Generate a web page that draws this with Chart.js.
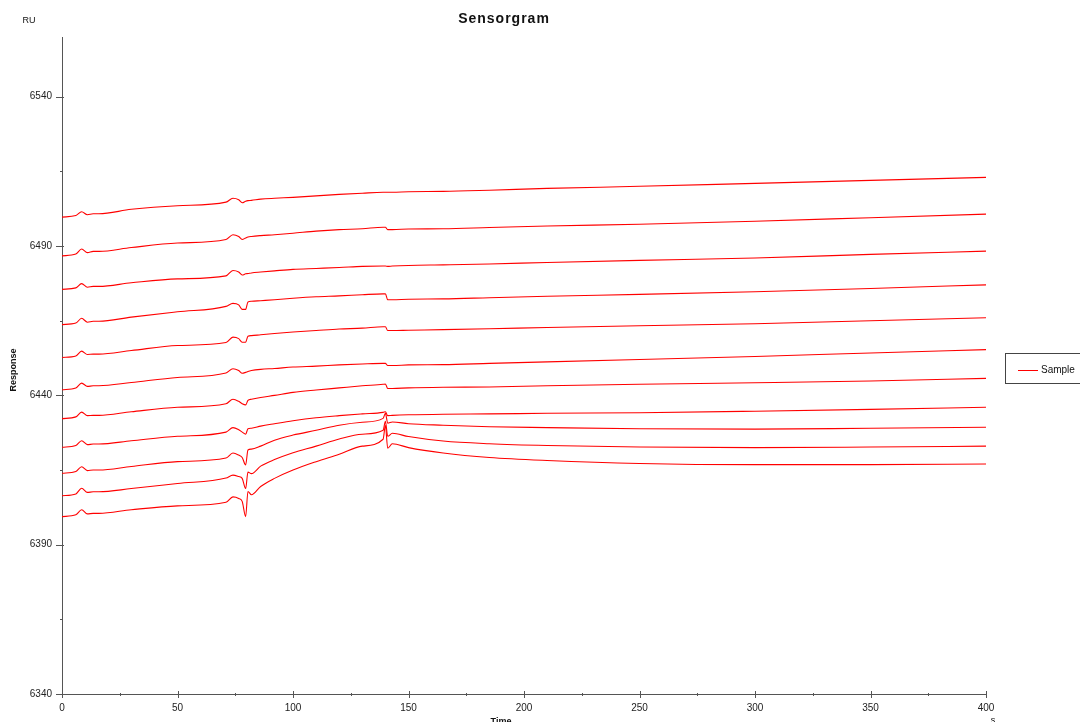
<!DOCTYPE html>
<html>
<head>
<meta charset="utf-8">
<script src="https://cdn.jsdelivr.net/npm/chart.js@4.4.1/dist/chart.umd.min.js"></script>
<style>
  html, body { margin: 0; padding: 0; background: #ffffff; }
  #wrap { width: 1080px; height: 722px; position: relative; overflow: hidden; }
</style>
</head>
<body>
<div id="wrap"><canvas id="c" width="1080" height="722"></canvas></div>
<script>
// ---- data (time in s, response in RU) ----
const times = [0, 6, 8.5, 11, 13.5, 16, 30, 50, 71, 74, 76.5, 78, 79.5, 80.5, 82, 86, 92, 100, 110, 120, 130, 139, 140, 141, 143, 150, 165, 185, 210, 250, 300, 350, 400];

const curve1  = [6499.7, 6500.2, 6501.5, 6500.5, 6500.8, 6500.8, 6502.3, 6503.5, 6504.7, 6506.0, 6505.5, 6504.5, 6505.0, 6505.2, 6505.3, 6505.7, 6506.0, 6506.3, 6506.8, 6507.3, 6507.7, 6508.0, 6508.0, 6508.0, 6508.0, 6508.2, 6508.3, 6508.7, 6509.3, 6510.0, 6511.0, 6512.0, 6513.0];
const curve2  = [6486.7, 6487.3, 6489.0, 6487.8, 6488.2, 6488.2, 6489.5, 6491.0, 6492.2, 6493.8, 6493.2, 6492.2, 6492.7, 6493.0, 6493.2, 6493.5, 6493.8, 6494.3, 6495.0, 6495.5, 6495.8, 6496.3, 6496.3, 6495.5, 6495.5, 6495.7, 6495.8, 6496.2, 6496.7, 6497.3, 6498.3, 6499.5, 6500.7];
const curve3  = [6475.5, 6476.0, 6477.4, 6476.2, 6476.5, 6476.5, 6477.7, 6479.0, 6480.0, 6481.8, 6481.3, 6480.3, 6480.7, 6480.8, 6481.0, 6481.3, 6481.7, 6482.2, 6482.5, 6482.8, 6483.2, 6483.3, 6483.3, 6483.2, 6483.3, 6483.5, 6483.7, 6484.0, 6484.5, 6485.2, 6486.0, 6487.2, 6488.3];
const curve4  = [6463.7, 6464.2, 6465.8, 6464.5, 6464.8, 6464.8, 6466.2, 6468.0, 6469.8, 6470.8, 6470.3, 6468.8, 6468.8, 6471.3, 6471.5, 6471.7, 6472.0, 6472.5, 6473.0, 6473.3, 6473.7, 6474.0, 6474.0, 6472.0, 6472.0, 6472.2, 6472.3, 6472.7, 6473.2, 6473.8, 6474.7, 6475.8, 6477.0];
const curve5  = [6452.7, 6453.2, 6454.8, 6453.7, 6453.8, 6453.8, 6455.0, 6456.7, 6457.7, 6459.5, 6459.0, 6457.8, 6457.8, 6459.8, 6460.0, 6460.3, 6460.7, 6461.2, 6461.7, 6462.2, 6462.5, 6463.0, 6463.0, 6461.7, 6461.7, 6461.8, 6462.0, 6462.3, 6462.7, 6463.3, 6464.0, 6465.0, 6466.0];
const curve6  = [6441.9, 6442.5, 6444.1, 6443.0, 6443.2, 6443.2, 6444.3, 6446.0, 6447.5, 6448.9, 6448.3, 6447.4, 6447.7, 6448.0, 6448.3, 6448.7, 6449.0, 6449.5, 6449.8, 6450.2, 6450.5, 6450.7, 6450.7, 6450.0, 6450.0, 6450.2, 6450.3, 6450.7, 6451.2, 6452.0, 6453.0, 6454.2, 6455.3];
const curve7  = [6432.2, 6432.8, 6434.4, 6433.2, 6433.3, 6433.3, 6434.5, 6436.0, 6437.2, 6438.7, 6438.0, 6437.2, 6436.8, 6438.3, 6438.7, 6439.3, 6440.0, 6441.0, 6441.8, 6442.5, 6443.2, 6443.7, 6443.8, 6442.3, 6442.3, 6442.5, 6442.7, 6442.8, 6443.2, 6443.7, 6444.2, 6444.8, 6445.7];
const curve8  = [6422.6, 6423.2, 6424.8, 6423.5, 6423.7, 6423.7, 6424.8, 6426.3, 6427.7, 6429.2, 6428.5, 6427.7, 6427.0, 6428.8, 6429.0, 6429.7, 6430.5, 6431.5, 6432.5, 6433.2, 6433.8, 6434.3, 6434.5, 6433.2, 6433.3, 6433.5, 6433.7, 6433.8, 6434.0, 6434.2, 6434.7, 6435.3, 6436.0];
const curve9  = [6413.9, 6414.5, 6416.1, 6414.8, 6415.0, 6415.0, 6416.2, 6417.8, 6419.0, 6420.7, 6420.0, 6419.2, 6416.7, 6421.7, 6422.0, 6423.0, 6425.0, 6426.7, 6428.3, 6430.0, 6431.0, 6432.3, 6434.0, 6430.7, 6431.1, 6430.5, 6430.0, 6429.5, 6429.2, 6428.8, 6428.7, 6429.0, 6429.3];
const curve10 = [6406.4, 6407.0, 6408.9, 6407.5, 6407.7, 6407.7, 6408.8, 6410.5, 6412.3, 6413.3, 6412.8, 6412.2, 6408.8, 6414.3, 6413.8, 6416.3, 6418.5, 6420.8, 6423.0, 6425.4, 6427.0, 6428.3, 6431.3, 6426.3, 6427.3, 6426.2, 6424.7, 6423.8, 6423.2, 6422.7, 6422.5, 6422.7, 6423.0];
const curve11 = [6399.4, 6400.0, 6401.7, 6400.3, 6400.5, 6400.5, 6401.7, 6403.0, 6404.2, 6406.0, 6405.5, 6404.5, 6399.4, 6407.8, 6406.7, 6409.5, 6412.2, 6415.0, 6417.8, 6420.3, 6423.0, 6425.3, 6430.0, 6422.3, 6423.8, 6422.5, 6420.7, 6419.2, 6418.2, 6417.2, 6416.8, 6416.8, 6417.0];

const curves = [curve1, curve2, curve3, curve4, curve5, curve6, curve7, curve8, curve9, curve10, curve11];

const xTickValues = [0, 25, 50, 75, 100, 125, 150, 175, 200, 225, 250, 275, 300, 325, 350, 375, 400];
const xTickLabels = ['0', '', '50', '', '100', '', '150', '', '200', '', '250', '', '300', '', '350', '', '400'];
const yTickValues = [6340, 6365, 6390, 6415, 6440, 6465, 6490, 6515, 6540];
const yTickLabels = ['6340', '', '6390', '', '6440', '', '6490', '', '6540'];

const seriesName = 'Sample';
const titleText = 'Sensorgram';
const xTitle = 'Time';
const yTitle = 'Response';
const yUnit = 'RU';
const xUnit = 's';

// ---- styles ----
const FONT = '"Liberation Sans", Arial, sans-serif';
const RED = '#ff0000';
const AXIS = '#555555';

const decor = {
  id: 'decor',
  afterDraw(chart) {
    const ctx = chart.ctx, xs = chart.scales.x, ys = chart.scales.y, a = chart.chartArea;
    ctx.save();
    // tick marks
    ctx.strokeStyle = AXIS; ctx.lineWidth = 1;
    ctx.beginPath();
    xTickValues.forEach((v, i) => {
      const px = Math.round(xs.getPixelForValue(v)) + 0.5;
      const major = xTickLabels[i] !== '';
      ctx.moveTo(px, a.bottom - (major ? 3 : 1));
      ctx.lineTo(px, a.bottom + (major ? 4 : 2));
    });
    yTickValues.forEach((v, i) => {
      const py = Math.round(ys.getPixelForValue(v)) + 0.5;
      const major = yTickLabels[i] !== '';
      ctx.moveTo(a.left - (major ? 6 : 2), py);
      ctx.lineTo(a.left + (major ? 2 : 0), py);
    });
    ctx.stroke();

    ctx.fillStyle = '#111';
    // title
    ctx.font = 'bold 14px ' + FONT;
    ctx.textAlign = 'center'; ctx.textBaseline = 'alphabetic';
    try { ctx.letterSpacing = '1px'; } catch (e) {}
    ctx.fillText(titleText, 504, 23);
    try { ctx.letterSpacing = '0px'; } catch (e) {}
    // RU unit
    ctx.font = '9px ' + FONT;
    ctx.textAlign = 'center'; ctx.textBaseline = 'middle';
    ctx.fillText(yUnit, 29, 21);
    // y title
    ctx.save();
    ctx.translate(14, 370);
    ctx.rotate(-Math.PI / 2);
    ctx.font = 'bold 9px ' + FONT;
    ctx.textAlign = 'center'; ctx.textBaseline = 'middle';
    ctx.fillText(yTitle, 0, 0);
    ctx.restore();
    // x title (partly off canvas as in the reference)
    ctx.font = 'bold 9px ' + FONT;
    ctx.textAlign = 'center'; ctx.textBaseline = 'top';
    ctx.fillText(xTitle, 501, 717);
    ctx.font = '9px ' + FONT;
    ctx.fillText(xUnit, 993, 716);

    // legend box
    ctx.strokeStyle = '#444'; ctx.lineWidth = 1;
    ctx.strokeRect(1005.5, 353.5, 90, 30);
    ctx.strokeStyle = RED; ctx.lineWidth = 1;
    ctx.beginPath(); ctx.moveTo(1018, 370.5); ctx.lineTo(1038, 370.5); ctx.stroke();
    ctx.fillStyle = '#111';
    ctx.font = '10px ' + FONT;
    ctx.textAlign = 'left'; ctx.textBaseline = 'middle';
    ctx.fillText(seriesName, 1041, 370);
    ctx.restore();
  }
};

const datasets = curves.map((c, i) => ({
  label: seriesName,
  data: times.map((t, j) => ({ x: t, y: c[j] })),
  borderColor: RED,
  borderWidth: 1.1,
  pointRadius: 0,
  cubicInterpolationMode: 'monotone',
  fill: false
}));

new Chart(document.getElementById('c'), {
  type: 'line',
  data: { datasets },
  options: {
    responsive: false,
    animation: false,
    events: [],
    layout: { padding: { left: 0, right: 94, top: 37, bottom: 0 } },
    plugins: { legend: { display: false }, title: { display: false }, tooltip: { enabled: false } },
    scales: {
      x: {
        type: 'linear', min: 0, max: 400,
        afterBuildTicks: s => { s.ticks = xTickValues.map(v => ({ value: v })); },
        afterFit: s => { s.height = 28; },
        grid: { display: false, drawTicks: false },
        border: { display: true, color: AXIS, width: 1 },
        ticks: {
          autoSkip: false, maxRotation: 0, padding: 8,
          color: '#222', font: { family: FONT, size: 10 },
          callback: (v, i) => xTickLabels[i]
        }
      },
      y: {
        type: 'linear', min: 6340, max: 6560,
        afterBuildTicks: s => { s.ticks = yTickValues.map(v => ({ value: v })); },
        afterFit: s => { s.width = 62; },
        grid: { display: false, drawTicks: false },
        border: { display: true, color: AXIS, width: 1 },
        ticks: {
          autoSkip: false, padding: 10,
          color: '#222', font: { family: FONT, size: 10 },
          callback: (v, i) => yTickLabels[i]
        }
      }
    }
  },
  plugins: [decor]
});
</script>
</body>
</html>
